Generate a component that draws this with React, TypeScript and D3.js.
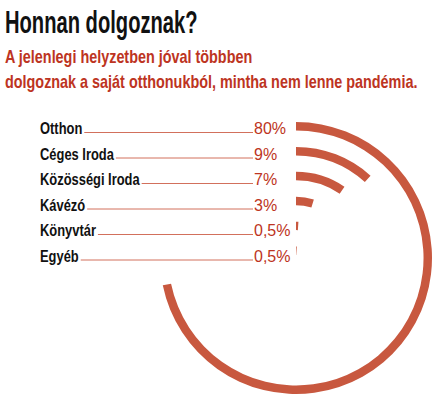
import { useEffect, useRef } from "react";
import * as d3 from "d3";

const title = "Honnan dolgoznak?";
const subtitle = [
  "A jelenlegi helyzetben jóval többben",
  "dolgoznak a saját otthonukból, mintha nem lenne pandémia.",
];
const categories = ["Otthon", "Céges Iroda", "Közösségi Iroda", "Kávézó", "Könyvtár", "Egyéb"];
const values = [80, 9, 7, 3, 0.5, 0.5];
const valueLabels = ["80%", "9%", "7%", "3%", "0,5%", "0,5%"];

const WIDTH = 440;
const HEIGHT = 398;
const CX = 296;
const CY = 258;
const FONT = "'Liberation Sans', Arial, sans-serif";
const RED = "#bd3422";
const ARC = "#c8583f";

export default function App() {
  const ref = useRef<SVGSVGElement>(null);

  useEffect(() => {
    const svg = d3.select(ref.current);
    svg.selectAll("*").remove();

    // title + subtitle, squeezed to look like a condensed face
    svg
      .append("text")
      .attr("transform", "translate(5,33) scale(0.63,1)")
      .attr("font-family", FONT)
      .attr("font-weight", "bold")
      .attr("font-size", 32)
      .attr("fill", "#111")
      .text(title);

    subtitle.forEach((line, i) => {
      svg
        .append("text")
        .attr("transform", `translate(5,${63 + i * 25}) scale(0.8,1)`)
        .attr("font-family", FONT)
        .attr("font-weight", "bold")
        .attr("font-size", 18)
        .attr("fill", RED)
        .text(line);
    });

    const y = d3.scalePoint<string>().domain(categories).range([134, 261.5]);

    const ring = d3.scaleBand<string>().domain(categories).range([136, 3]).paddingInner(0.66);
    const angle = d3
      .scalePow()
      .exponent(0.83)
      .domain([0, 80])
      .range([0, (258.4 * Math.PI) / 180]);
    const arcGen = d3.arc<any>();

    const rows = svg.append("g");
    categories.forEach((c, i) => {
      const yy = y(c)!;
      const label = rows
        .append("text")
        .attr("transform", `translate(40,${yy}) scale(0.76,1)`)
        .attr("font-family", FONT)
        .attr("font-weight", "bold")
        .attr("font-size", 17)
        .attr("fill", "#111")
        .text(c);
      const w = (label.node() as SVGTextElement).getComputedTextLength() * 0.76;

      rows
        .append("line")
        .attr("x1", 40 + w + 2)
        .attr("x2", 253)
        .attr("y1", yy - 1.5)
        .attr("y2", yy - 1.5)
        .attr("stroke", "#d2705c")
        .attr("stroke-width", 1);

      rows
        .append("text")
        .attr("x", 254)
        .attr("y", yy)
        .attr("font-family", FONT)
        .attr("font-size", 16)
        .attr("fill", RED)
        .text(valueLabels[i]);
    });

    const arcs = svg.append("g").attr("transform", `translate(${CX},${CY})`);
    categories.forEach((c, i) => {
      arcs
        .append("path")
        .attr(
          "d",
          arcGen({
            innerRadius: ring(c)!,
            outerRadius: ring(c)! + ring.bandwidth(),
            startAngle: 0,
            endAngle: angle(values[i]),
          })
        )
        .attr("fill", ARC);
    });
  }, []);

  return (
    <svg
      ref={ref}
      width={WIDTH}
      height={HEIGHT}
      style={{ position: "absolute", left: 0, top: 0, background: "#fff" }}
    />
  );
}
